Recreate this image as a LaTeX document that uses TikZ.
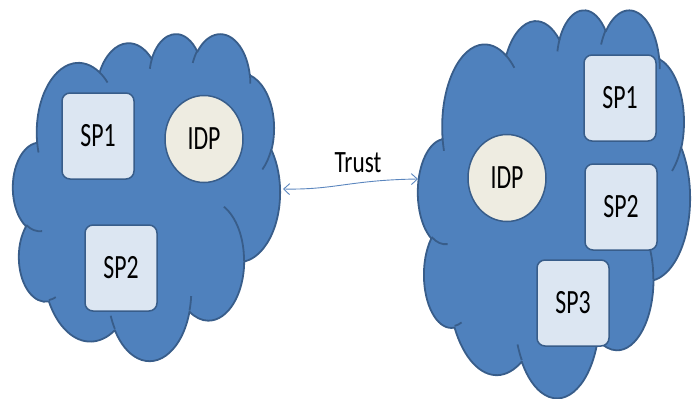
\documentclass[tikz,border=0pt]{standalone}
\usepackage{fontspec}
\setmainfont{Carlito}
\usetikzlibrary{shapes.geometric,arrows.meta}
\definecolor{cloudfill}{HTML}{4F81BD}
\definecolor{cloudline}{HTML}{385D8A}
\definecolor{boxfill}{HTML}{DCE6F2}
\definecolor{idpfill}{HTML}{EEECE1}
\definecolor{linkcol}{HTML}{5B86BE}
\newcommand{\lbl}[1]{\scalebox{0.7}[1]{#1}}
% elliptic arc given by radii and visual start/sweep angles (degrees)
\newcommand{\ooarc}[4]{%
  arc[x radius=#1, y radius=#2,
      start angle={atan2(#1*sin(#3), #2*cos(#3))},
      delta angle={mod(atan2(#1*sin(#3+#4), #2*cos(#3+#4)) - atan2(#1*sin(#3), #2*cos(#3)) + 720, 360)}]}
% cloud outline in a 432 x 432 frame
\newcommand{\cloudshape}{%
  \filldraw[cloudstyle] (39.00,143.70)
    \ooarc{67.53}{91.90}{-190.48748}{123.78053}
    \ooarc{53.33}{72.67}{-144.10238}{89.94523}
    \ooarc{43.65}{59.45}{-145.80792}{99.72302}
    \ooarc{48.57}{65.95}{-130.98607}{117.24173}
    \ooarc{53.33}{72.73}{-78.70888}{109.02692}
    \ooarc{67.75}{92.20}{-46.26725}{130.269}
    \ooarc{57.85}{78.67}{0.62502}{114.03333}
    \ooarc{67.52}{92.15}{22.4516}{115.17255}
    \ooarc{77.20}{105.43}{66.24263}{75.71102}
    \ooarc{43.60}{59.18}{-274.94208}{146.73557}
    \ooarc{43.45}{59.45}{-246.8285}{152.51885}
    -- cycle;
  \draw[cloudstyle, fill=none]
    (46.93,261.77) \ooarc{43.45}{59.45}{86.742}{26.4295}
    (69.28,348.99) \ooarc{43.60}{59.18}{73.61047}{11.44747}
    (164.78,390.90) \ooarc{67.52}{92.15}{137.62415}{14.0811}
    (288.27,347.51) \ooarc{67.52}{92.15}{6.45327}{15.99835}
    (341.29,229.54) \ooarc{57.85}{78.67}{-70.29235}{70.91737}
    (417.98,153.54) \ooarc{53.33}{72.73}{30.31803}{27.7515}
    (383.24,54.26) \ooarc{48.57}{65.95}{-13.74433}{14.8589}
    (290.78,39.52) \ooarc{48.57}{65.95}{-149.18145}{18.19537}
    (221.41,47.20) \ooarc{43.65}{59.45}{-163.49427}{17.68635}
    (140.00,51.92) \ooarc{67.53}{91.90}{-66.70695}{12.31935}
    (41.27,157.89) \ooarc{67.53}{91.90}{157.65435}{11.85817};
}
\tikzset{
  cloudstyle/.style={fill=cloudfill, draw=cloudline, line width=1.8pt, line join=round},
  spbox/.style={rectangle, rounded corners=8pt, fill=boxfill, draw=cloudline,
    line width=1.5pt, minimum width=72pt, minimum height=86pt,
    font=\fontsize{34}{34}\selectfont},
  idpnode/.style={ellipse, fill=idpfill, draw=cloudline, line width=1.5pt,
    minimum width=78pt, minimum height=87pt, font=\fontsize{34}{34}\selectfont},
  trustlink/.style={draw=linkcol, line width=0.9pt,
    {Straight Barb[length=6pt,width=11pt]}-{Straight Barb[length=6pt,width=11pt]}}
}
\begin{document}
\begin{tikzpicture}[x=1pt,y=-1pt]
  \useasboundingbox (0,0) rectangle (694,399);
  % left federation cloud
  \begin{scope}[shift={(13,33)}, x=267pt/432, y=-327pt/432]
    \cloudshape
  \end{scope}
  % right federation cloud
  \begin{scope}[shift={(418,9)}, x=272pt/432, y=-388pt/432]
    \cloudshape
  \end{scope}
  % left federation members
  \node[spbox] (lsp1) at (98,136) {\lbl{SP1}};
  \node[idpnode] (lidp) at (204,139) {\lbl{IDP}};
  \node[spbox] (lsp2) at (121,268) {\lbl{SP2}};
  % right federation members
  \node[idpnode] (ridp) at (507,178) {\lbl{IDP}};
  \node[spbox] (rsp1) at (620,98) {\lbl{SP1}};
  \node[spbox] (rsp2) at (621,207) {\lbl{SP2}};
  \node[spbox] (rsp3) at (573,303) {\lbl{SP3}};
  % trust link between the two federations
  \coordinate (ta) at (283,189);
  \coordinate (tb) at (418,179);
  \draw[trustlink] (ta) .. controls (335,190) and (350,180) .. (tb);
  \node[font=\fontsize{31}{31}\selectfont] (trust) at (358,163) {\scalebox{0.75}[1]{Trust}};
\end{tikzpicture}
\end{document}
